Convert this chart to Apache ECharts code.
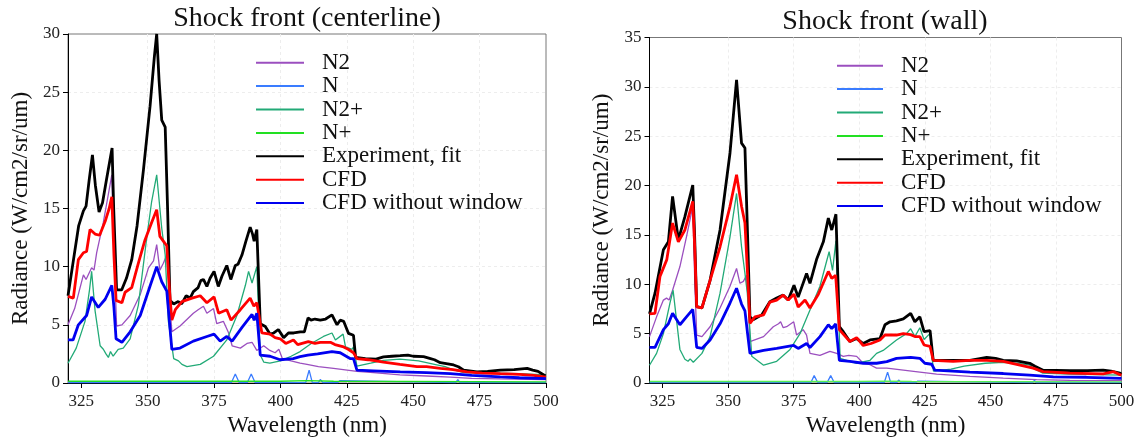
<!DOCTYPE html>
<html>
<head>
<meta charset="utf-8">
<script src="https://cdn.jsdelivr.net/npm/echarts@6/dist/echarts.min.js"></script>
<style>html,body{margin:0;padding:0;background:#fff}#c{width:1137px;height:438px}</style>
</head>
<body>
<div id="c"></div>
<script>
// ---------- tick labels ----------
const xTicks = [325, 350, 375, 400, 425, 450, 475, 500];
const legendNames = ['N2', 'N', 'N2+', 'N+', 'Experiment, fit', 'CFD', 'CFD without window'];

// ---------- Shock front (centerline) ----------
const cl_N2 = [[320,5.0],[322.5,6.4],[325.8,9.3],[326.8,8.9],[328.9,9.9],[329.8,9.7],[330.8,11.2],[333.3,13.8],[336.5,17.9],[337.5,10],[338.3,4.9],[340.3,5.0],[343.4,5.8],[347.2,7.6],[350.3,9.9],[352.2,10.5],[353.4,11.9],[354.6,9.7],[355.9,10.3],[357.2,11.0],[358.3,7],[359.1,4.4],[362.2,4.9],[367.2,6.0],[369,6.3],[371,6.6],[372.3,6.0],[374.8,6.4],[376,5.1],[378.5,5.3],[380.5,4.3],[381.8,3.2],[384.9,3.0],[387.4,3.4],[389.3,3.5],[391.1,2.8],[393.7,3.2],[396,2.8],[398,2.6],[399.4,2.9],[400.7,2.1],[404,1.9],[407.4,1.7],[410,1.6],[414.3,1.4],[420,1.25],[428.8,1.0],[435,0.9],[445,0.7],[455,0.6],[464,0.5],[472,0.4],[482.8,0.35],[500,0.3]];
const cl_N = [[320,0.03],[381.5,0.03],[383,0.78],[384.5,0.03],[387.5,0.03],[389,0.78],[390.5,0.03],[409.5,0.03],[410.8,1.1],[412,0.03],[414.3,0.03],[415,0.3],[416,0.03],[421.5,0.03],[422.3,0.2],[423,0.03],[466,0.03],[466.8,0.3],[467.6,0.03],[492.3,0.03],[493,0.2],[493.7,0.03],[500,0.03]];
const cl_N2p = [[320,1.7],[323.1,3.0],[326.4,5.3],[328.1,8],[328.9,9.6],[330.2,6.2],[332.1,3.2],[333.3,2.9],[334.3,2.5],[335.2,2.2],[336,2.7],[337,2.3],[338.9,2.9],[340.8,3.0],[343.4,3.8],[346.5,6.7],[349.6,12.4],[351.5,15.6],[353.4,17.9],[355.3,13.3],[356.6,11],[357.8,5.3],[359.8,2.1],[361.6,1.9],[362.9,1.6],[364.8,1.4],[369.8,1.6],[374.8,2.3],[379.8,3.7],[383.6,5.8],[386.8,8.4],[388,9.6],[389.3,8.6],[391.1,10.0],[392.4,2.4],[393.7,1.8],[396,1.7],[400,1.9],[404,2.3],[407.4,2.7],[411.6,3.4],[416.2,4.0],[419.4,4.3],[420.7,3.7],[423.6,4.2],[424.5,3.1],[427,2.9],[427.5,3.1],[428.8,1.45],[434,1.7],[438.8,1.95],[445,2.05],[452,1.9],[458,1.6],[462,1.4],[465,1.15],[469,0.9],[480,0.85],[490,0.8],[500,0.7]];
const cl_Np = [[320,0.15],[400,0.15],[410,0.2],[420,0.15],[500,0.1]];
const cl_exp = [[320,7.5],[322,10.5],[324,13.5],[325.8,14.8],[326.8,15.2],[328,17.5],[329.2,19.6],[330.3,17],[331.7,14.7],[333,15.5],[334.5,17.5],[336.6,20.2],[337.2,15],[338.3,8.0],[340.2,8.0],[342,9.0],[344,10.6],[346,13.5],[348.4,18.3],[350.9,23.8],[352.5,28],[353.4,30],[354.3,26],[355.3,22.6],[356.6,22.0],[357.5,15],[358.4,7.1],[359.8,6.8],[361.5,7.0],[362.8,6.8],[364.5,7.5],[366,7.3],[367.2,7.85],[369,8.2],[370,8.8],[371,8.9],[372.3,8.3],[373.5,9.0],[375,9.6],[376.6,8.3],[378,9.2],[379.8,10.1],[381.3,8.9],[383,10.1],[384,10.2],[385.5,11.0],[387,12.2],[388.6,13.4],[389.5,12.8],[390.1,12.2],[391.1,13.2],[392.4,5.1],[394.3,4.85],[396.1,4.2],[397.5,4.3],[399.2,4.6],[401.2,3.9],[403,4.3],[405,4.3],[407.5,4.4],[409,4.4],[410.4,5.6],[411.5,5.4],[413,5.5],[415,5.4],[417,5.5],[419.4,5.85],[421.3,5.0],[422.5,5.4],[423.8,5.3],[425.6,4.27],[427.5,4.1],[428.3,2.2],[432,2.1],[436,2.05],[438.8,2.25],[442,2.3],[445.1,2.35],[448,2.4],[450,2.3],[453.9,2.27],[456.5,2.1],[458,2.0],[460.2,1.75],[463,1.65],[465.2,1.55],[467,1.4],[469,1.1],[474,0.95],[478,1.0],[482.8,1.1],[488,1.15],[492.9,1.25],[495,1.1],[497,1.0],[499.8,0.6]];
const cl_cfd = [[320,7.45],[322,7.3],[323.9,10.6],[325.8,11.2],[327,11.3],[328.3,13.2],[330.2,12.8],[331.9,12.7],[334,13.9],[335.5,15],[336.5,16.0],[337.3,11],[338.1,7.1],[340.3,6.9],[341.5,7.8],[344,8.2],[346.5,10.3],[349,12.3],[351.5,13.8],[353.4,14.9],[354.6,12.6],[355.9,12.2],[357.2,11.8],[358.2,8],[359.1,5.4],[360.4,6.3],[362.9,7.0],[366.7,7.3],[369.8,7.5],[372.3,6.9],[375,7.4],[376.7,6.0],[379.8,6.3],[381.4,5.4],[384.9,6.3],[388.6,7.3],[390,6.6],[391.1,6.9],[393,4.3],[396.1,4.2],[398,3.9],[399.9,3.8],[402,3.4],[404.9,3.7],[406.5,3.3],[410.5,3.55],[413,3.4],[415,3.5],[418.8,3.5],[420.5,3.3],[423.8,3.1],[425.5,2.9],[427.5,2.6],[428.8,2.1],[433,2.0],[438.8,1.8],[445,1.6],[451.4,1.4],[455,1.4],[460.2,1.25],[465,1.15],[470.3,0.95],[476,0.85],[482.8,0.8],[490,0.75],[495.4,0.66],[500,0.5]];
const cl_cfdNoWin = [[320,3.7],[321.9,3.7],[323.9,5.0],[327,5.8],[328.9,7.4],[331.4,6.5],[334,7.2],[336.5,8.4],[337.3,6.5],[338.1,3.8],[340.3,3.5],[343.4,4.4],[347.2,5.8],[351,8.4],[353.4,10.0],[355.3,8.7],[357.2,7.9],[358.3,5],[359.1,2.9],[362.2,3.0],[367.2,3.6],[372.3,4.0],[375,4.2],[377.3,3.6],[379.8,4.0],[381.8,3.6],[385.6,4.8],[389.3,5.9],[390.1,5.4],[391.1,6.0],[392.4,2.4],[396.1,2.3],[399.9,2.0],[404.8,2.1],[407.4,2.27],[410.3,2.4],[414,2.5],[419.4,2.7],[422.5,2.6],[426.2,2.1],[427.5,2.1],[428.8,1.1],[435,1.05],[445.1,0.95],[455,0.9],[464,0.8],[472,0.65],[482.8,0.52],[490,0.45],[500,0.37]];

// ---------- Shock front (wall) ----------
const w_N2 = [[320,4.7],[322.7,6.7],[325.3,8.4],[326.5,8.6],[327.5,8.4],[328.8,9.4],[331.6,11.8],[334.1,14.8],[336.5,17.9],[337.3,10],[338,4.86],[340,4.7],[343.1,5.7],[346.9,7.6],[350.7,9.8],[353.2,11.6],[354.5,10.1],[355.8,10.3],[357,10.9],[357.7,8],[358.3,4.2],[363.5,4.7],[367.2,5.7],[369.2,6.0],[370,6.2],[371,5.6],[372.3,5.7],[375,6.2],[376.1,4.86],[378.6,5.4],[379.9,4.86],[381.2,3.0],[385,2.8],[388.8,3.2],[391.4,3.0],[393.9,2.7],[396,2.8],[399,2.7],[401.5,2.0],[404.1,1.85],[406.6,1.5],[410.5,1.5],[416.8,1.3],[423.1,1.1],[429.5,0.9],[442.2,0.67],[454.9,0.5],[467.6,0.34],[480.3,0.27],[500,0.24]];
const w_N = [[320,0.03],[381.5,0.03],[382.8,0.75],[384.2,0.03],[387.7,0.03],[389.1,0.75],[390.5,0.03],[409.5,0.03],[410.8,1.1],[412,0.03],[414.3,0.03],[415,0.3],[416,0.03],[421.5,0.03],[422.3,0.2],[423,0.03],[466,0.03],[466.8,0.25],[467.6,0.03],[492.3,0.03],[493,0.2],[493.7,0.03],[500,0.03]];
const w_N2p = [[320,1.8],[322.7,3.0],[325.3,5.0],[327.8,8.1],[329,9.4],[330.3,6.4],[331.6,3.4],[333.5,2.4],[334.7,2.2],[335.5,2.45],[336.7,2.1],[340,3.0],[343.1,4.7],[346.9,9.1],[350.7,14.8],[353.2,19.2],[355.1,13.8],[356.4,11.1],[357.3,9.1],[359,2.7],[363.5,1.8],[368.5,2.2],[373.6,3.4],[377.4,5.0],[381.2,7.4],[385,9.8],[388.5,13.3],[389.8,11.4],[391.1,14.4],[392.7,2.5],[399,2.0],[404.1,2.3],[406.6,3.0],[409.1,3.3],[414.2,4.36],[418,5.0],[419.6,5.5],[421.2,4.7],[423.1,5.6],[424.7,4.4],[426.9,5.0],[428.3,1.2],[435,1.4],[440,1.7],[448,2.0],[455,2.1],[460,2.0],[465,1.8],[467,1.4],[470,1.0],[480,0.9],[500,0.8]];
const w_Np = [[320,0.15],[400,0.15],[410,0.2],[420,0.15],[500,0.12]];
const w_exp = [[320,7.0],[322.1,9.1],[325.3,13.5],[327.2,14.3],[328.8,18.9],[331,14.5],[333.5,16.85],[336.5,20.06],[337.2,15],[338,7.73],[340,7.6],[343.1,10.4],[346.9,15.5],[350.7,23.3],[353.2,30.7],[355.1,24.3],[356.4,23.8],[357.4,15],[358.3,6.7],[359.5,6.4],[362.8,6.9],[365.9,8.24],[368.5,8.6],[371,8.9],[372.9,8.4],[375.1,9.9],[376.7,8.7],[379.9,11.1],[381.2,10.1],[383.7,12.5],[386.3,14.3],[388.2,16.7],[389.5,15.5],[391.1,17.1],[392.4,5.7],[393.9,5.2],[396.4,4.2],[399,4.5],[401.5,4.0],[404.1,4.36],[407.9,4.5],[409.8,5.9],[411.7,6.2],[414.2,6.3],[416.8,6.5],[419.6,7.06],[421.2,6.2],[423.1,6.7],[424.7,5.2],[427,5.3],[428.2,2.3],[435.8,2.3],[442.2,2.3],[448.6,2.6],[452,2.5],[454.9,2.3],[460,2.25],[465,2.0],[467,1.7],[470.1,1.3],[480.3,1.25],[487,1.25],[493,1.3],[496,1.2],[499.4,1.0],[500,0.9]];
const w_cfd = [[320,7.0],[322.1,7.06],[324,10.8],[326.6,12.5],[328.8,16.2],[331,14.3],[333.5,15.5],[336.5,18.4],[337.2,14],[338,7.7],[340,7.6],[343.1,10.4],[346.9,13.8],[350.7,17.9],[353.2,21.1],[355.1,17.9],[356.4,16.2],[357.4,11],[358.3,6.05],[360.2,6.7],[363.5,6.9],[365.9,8.2],[368.5,8.4],[371,8.9],[372.9,8.4],[375.1,9.0],[376.7,7.7],[379.3,8.4],[381.2,7.6],[384.4,9.0],[388.2,11.3],[389.5,10.6],[391,10.9],[392.4,5.4],[396.4,4.2],[399,4.6],[401.5,3.8],[404.5,4.0],[407.9,4.36],[409.8,4.86],[414.2,4.86],[416.8,5.0],[419.6,4.9],[421.2,4.7],[423.1,4.7],[424.7,3.85],[427,3.7],[428.2,2.3],[435.8,2.2],[442.2,2.3],[448.6,2.3],[454.9,2.2],[461.3,1.8],[466.3,1.5],[470.1,1.15],[480.3,1.0],[493,0.93],[497,1.15],[499.4,0.85],[500,0.8]];
const w_cfdNoWin = [[320,3.6],[322.1,3.6],[325.3,5.4],[327.2,6.0],[328.8,7.06],[331.6,5.9],[334.1,6.7],[336.5,7.46],[337.3,5.5],[338,3.6],[340,3.5],[343.1,4.36],[346.9,6.0],[350.7,8.1],[353.2,9.6],[355.1,8.0],[356.4,7.3],[357.4,5],[358.3,3.0],[363.5,3.3],[368.5,3.5],[375,3.8],[376.7,3.5],[379.9,4.0],[381.2,3.6],[385,4.7],[388.2,5.9],[389.5,5.5],[391,6.0],[392.4,2.3],[396.4,2.2],[401.5,2.0],[406.6,2.0],[410.5,2.16],[414.2,2.5],[419.6,2.6],[423.1,2.5],[425,2.0],[427.6,1.9],[428.8,1.3],[442.2,1.1],[454.9,0.96],[465,0.8],[474,0.63],[486.6,0.58],[500,0.47]];

// ---------- styling ----------
const FONT = 'Liberation Serif';
const colors = {N2:'#9b4fbf', N:'#3a7cff', 'N2+':'#22aa77', exp:'#000000', cfd:'#ff0000', nowin:'#0000f0'};

function mkSeries(idx, arrs, npColor) {
  const defs = [
    ['N2', arrs[0], colors.N2, 1.3],
    ['N', arrs[1], colors.N, 1.3],
    ['N2+', arrs[2], colors['N2+'], 1.3],
    ['N+', arrs[3], npColor, 1.3],
    ['Experiment, fit', arrs[4], colors.exp, 2.8],
    ['CFD', arrs[5], colors.cfd, 2.8],
    ['CFD without window', arrs[6], colors.nowin, 2.8]
  ];
  return defs.map(d => ({
    type: 'line', name: d[0], data: d[1], xAxisIndex: idx, yAxisIndex: idx,
    symbol: 'none', showSymbol: false, smooth: false, clip: true,
    lineStyle: {color: d[2], width: d[3]}, itemStyle: {color: d[2]},
    emphasis: {disabled: true}
  }));
}

const splitStyle = {show: true, showMinLine: false, showMaxLine: false,
  lineStyle: {color: '#ededed', type: [3, 3], width: 1}};

function mkX(idx) {
  return {
    type: 'value', gridIndex: idx, min: 320, max: 500,
    name: 'Wavelength (nm)', nameLocation: 'middle', nameGap: 30,
    nameTextStyle: {fontFamily: FONT, fontSize: 23, color: '#111'},
    axisLine: {show: true, onZero: false, lineStyle: {color: '#000', width: 1}},
    axisTick: {show: true, length: 5, customValues: xTicks, lineStyle: {color: '#000'}},
    axisLabel: {customValues: xTicks, fontFamily: FONT, fontSize: 17, color: '#222', margin: 10},
    splitLine: splitStyle
  };
}
function mkY(idx, max) {
  return {
    type: 'value', gridIndex: idx, min: 0, max: max, interval: 5,
    name: 'Radiance (W/cm2/sr/um)', nameLocation: 'middle', nameGap: 36,
    nameTextStyle: {fontFamily: FONT, fontSize: 23, color: '#111'},
    axisLine: {show: true, lineStyle: {color: '#000', width: 1}},
    axisTick: {show: true, length: 5, lineStyle: {color: '#000'}},
    axisLabel: {fontFamily: FONT, fontSize: 17, color: '#222', margin: 8},
    splitLine: splitStyle
  };
}
function mkLegend(left, top, w) {
  return {
    orient: 'vertical', left: left, top: top, padding: 0, itemWidth: w, itemHeight: 14, itemGap: 0.4,
    selectedMode: false, data: legendNames,
    itemStyle: {opacity: 0},
    textStyle: {fontFamily: FONT, fontSize: 23, color: '#111', lineHeight: 23, padding: [0,0,0,13]}
  };
}

const chart = echarts.init(document.getElementById('c'), null, {renderer: 'canvas'});
chart.setOption({
  animation: false,
  backgroundColor: '#fff',
  title: [
    {text: 'Shock front (centerline)', left: 307, top: 5, textAlign: 'center', padding: 0,
     textStyle: {fontFamily: FONT, fontSize: 28, fontWeight: 'normal', color: '#111'}},
    {text: 'Shock front (wall)', left: 885, top: 8, textAlign: 'center', padding: 0,
     textStyle: {fontFamily: FONT, fontSize: 28, fontWeight: 'normal', color: '#111'}}
  ],
  grid: [
    {left: 68, top: 34, width: 478, height: 349, show: true, borderColor: '#777', borderWidth: 1,
     containLabel: false, outerBoundsMode: 'none'},
    {left: 649.5, top: 37.5, width: 472, height: 345.5, show: true, borderColor: '#777', borderWidth: 1,
     containLabel: false, outerBoundsMode: 'none'}
  ],
  legend: [mkLegend(255, 51.2, 48), mkLegend(836, 54.2, 46)],
  xAxis: [mkX(0), mkX(1)],
  yAxis: [mkY(0, 30), mkY(1, 35)],
  series: [].concat(
    mkSeries(0, [cl_N2, cl_N, cl_N2p, cl_Np, cl_exp, cl_cfd, cl_cfdNoWin], '#22e022'),
    mkSeries(1, [w_N2, w_N, w_N2p, w_Np, w_exp, w_cfd, w_cfdNoWin], '#55ee55')
  )
});
</script>
</body>
</html>
